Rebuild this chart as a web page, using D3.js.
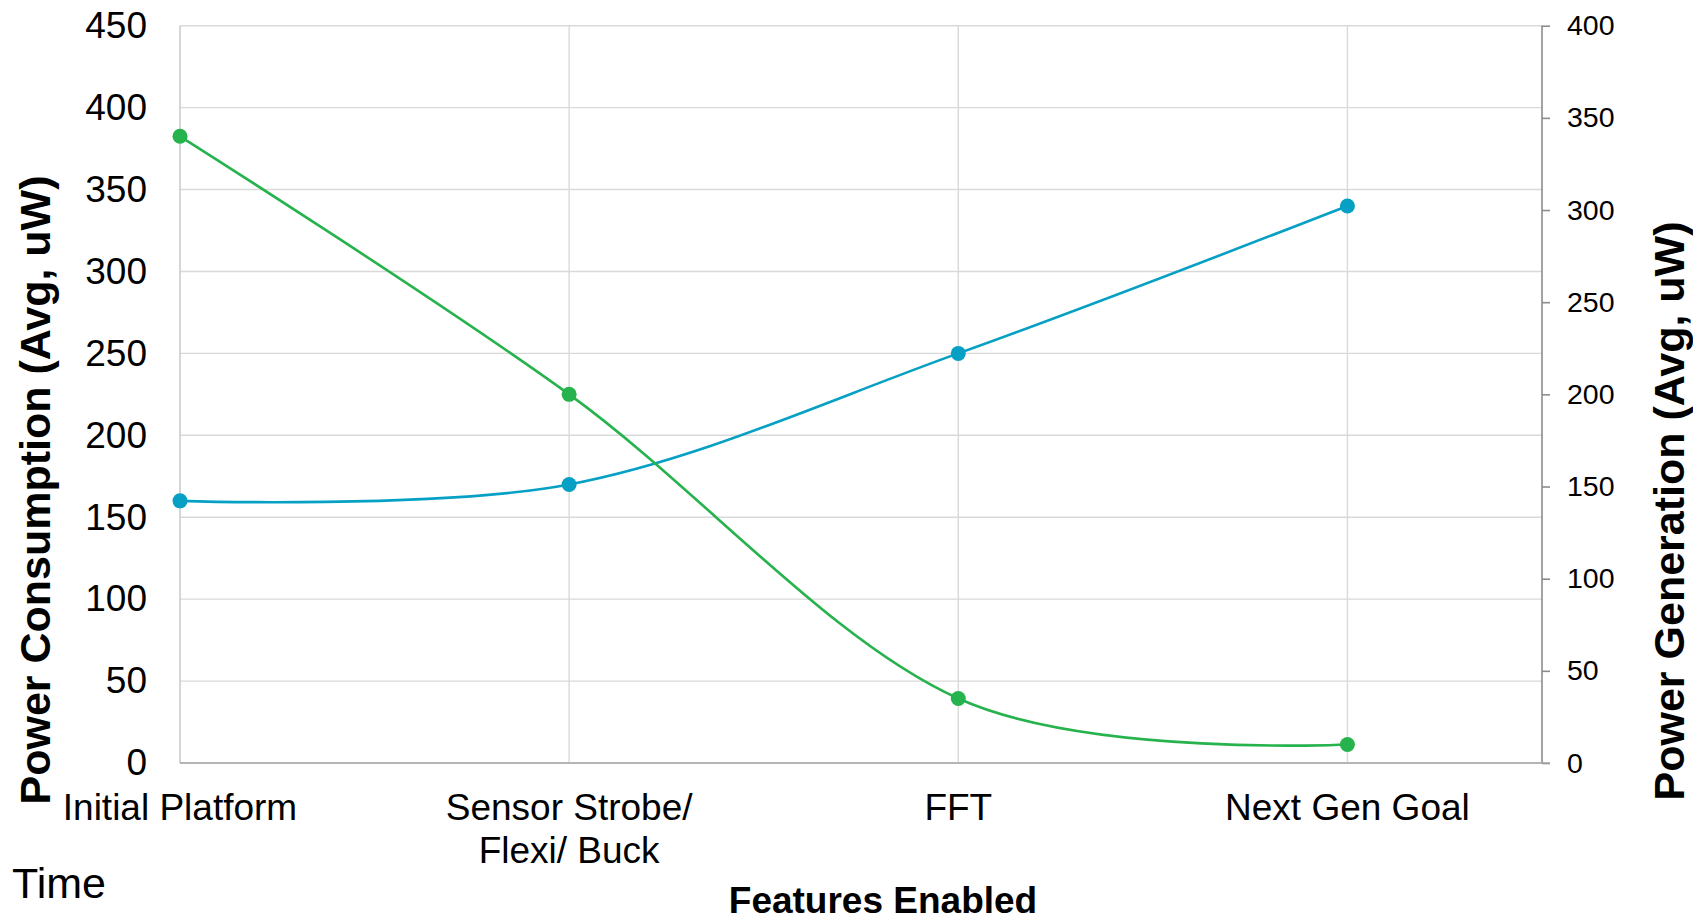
<!DOCTYPE html>
<html>
<head>
<meta charset="utf-8">
<script src="https://cdn.jsdelivr.net/npm/d3@7"></script>
<style>
  html, body { margin: 0; padding: 0; background: #fff; }
  svg { display: block; font-family: "Liberation Sans", Arial, sans-serif; }
</style>
</head>
<body>
<svg id="chart" width="1693" height="920"></svg>
<script>
// Feature milestones along the horizontal axis
const categories = [["Initial Platform"], ["Sensor Strobe/", "Flexi/ Buck"], ["FFT"], ["Next Gen Goal"]];
// Average power consumption (left axis, uW)
const consumption = [160, 170, 250, 340];
// Average power generation (right axis, uW)
const generation = [340, 200, 35, 10];
// Axis ticks
const leftTicks = [0, 50, 100, 150, 200, 250, 300, 350, 400, 450];
const rightTicks = [0, 50, 100, 150, 200, 250, 300, 350, 400];

const svg = d3.select("#chart");
const plotLeft = 180, plotRight = 1542, plotTop = 25.7, plotBottom = 763;

const x = d3.scaleLinear().domain([0, 3.5]).range([plotLeft, plotRight]);
const yL = d3.scaleLinear().domain([0, 450]).range([plotBottom, plotTop]);
const yR = d3.scaleLinear().domain([0, 400]).range([plotBottom, plotTop]);

// horizontal gridlines
svg.append("g").selectAll("line").data(leftTicks).join("line")
  .attr("x1", plotLeft).attr("x2", plotRight)
  .attr("y1", d => yL(d)).attr("y2", d => yL(d))
  .attr("stroke", "#d9d9d9").attr("stroke-width", 1.4);

// vertical gridlines at each category
svg.append("g").selectAll("line").data(categories.slice(1)).join("line")
  .attr("x1", (d, i) => x(i + 1)).attr("x2", (d, i) => x(i + 1))
  .attr("y1", plotTop).attr("y2", plotBottom)
  .attr("stroke", "#d9d9d9").attr("stroke-width", 1.4);

// left border
svg.append("line").attr("x1", plotLeft).attr("x2", plotLeft).attr("y1", plotTop).attr("y2", plotBottom)
  .attr("stroke", "#c8c8c8").attr("stroke-width", 1.5);

// right axis
const rightAxis = d3.axisRight(yR).tickValues(rightTicks).tickSize(8).tickPadding(17);
const ra = svg.append("g").attr("transform", `translate(${plotRight},0)`).call(rightAxis);
ra.select(".domain").attr("stroke", "#8c8c8c").attr("stroke-width", 1.6)
  .attr("d", `M0,${plotTop}V${plotBottom}`);
ra.selectAll(".tick line").attr("stroke", "#8c8c8c").attr("stroke-width", 1.6);
ra.selectAll(".tick text").attr("font-size", 28.5).attr("fill", "#000")
  .attr("font-family", "Liberation Sans, Arial, sans-serif");

// bottom axis line
svg.append("line").attr("x1", plotLeft).attr("x2", plotRight + 8).attr("y1", plotBottom).attr("y2", plotBottom)
  .attr("stroke", "#a6a6a6").attr("stroke-width", 1.6);

// left tick labels
const leftAxis = d3.axisLeft(yL).tickValues(leftTicks).tickSize(0).tickPadding(33);
const la = svg.append("g").attr("transform", `translate(${plotLeft},0)`).call(leftAxis);
la.select(".domain").remove();
la.selectAll(".tick text").attr("font-size", 37).attr("fill", "#000")
  .attr("font-family", "Liberation Sans, Arial, sans-serif");

// category labels
const catG = svg.append("g");
categories.forEach((lines, i) => {
  const t = catG.append("text").attr("text-anchor", "middle")
    .attr("font-size", 37).attr("fill", "#000");
  lines.forEach((ln, j) => {
    t.append("tspan").attr("x", x(i)).attr("y", 820 + j * 43).text(ln);
  });
});

// lines and markers
const curve = d3.curveCardinal.tension(0);
function series(values, yScale, color) {
  const pts = values.map((v, i) => [x(i), yScale(v)]);
  svg.append("path").datum(pts)
    .attr("d", d3.line().curve(curve))
    .attr("fill", "none").attr("stroke", color).attr("stroke-width", 2.6);
  svg.append("g").selectAll("circle").data(pts).join("circle")
    .attr("cx", d => d[0]).attr("cy", d => d[1]).attr("r", 7.5).attr("fill", color);
}
series(consumption, yL, "#05a0c4");
series(generation, yR, "#26b24c");

// axis titles
svg.append("text").attr("transform", "translate(50,490) rotate(-90)")
  .attr("text-anchor", "middle").attr("font-size", 43).attr("font-weight", "bold")
  .text("Power Consumption (Avg, uW)");
svg.append("text").attr("transform", "translate(1684,511) rotate(-90)")
  .attr("text-anchor", "middle").attr("font-size", 43).attr("font-weight", "bold")
  .text("Power Generation (Avg, uW)");
svg.append("text").attr("x", 883).attr("y", 913)
  .attr("text-anchor", "middle").attr("font-size", 37).attr("font-weight", "bold")
  .text("Features Enabled");
svg.append("text").attr("x", 12).attr("y", 898)
  .attr("font-size", 43).text("Time");
</script>
</body>
</html>
